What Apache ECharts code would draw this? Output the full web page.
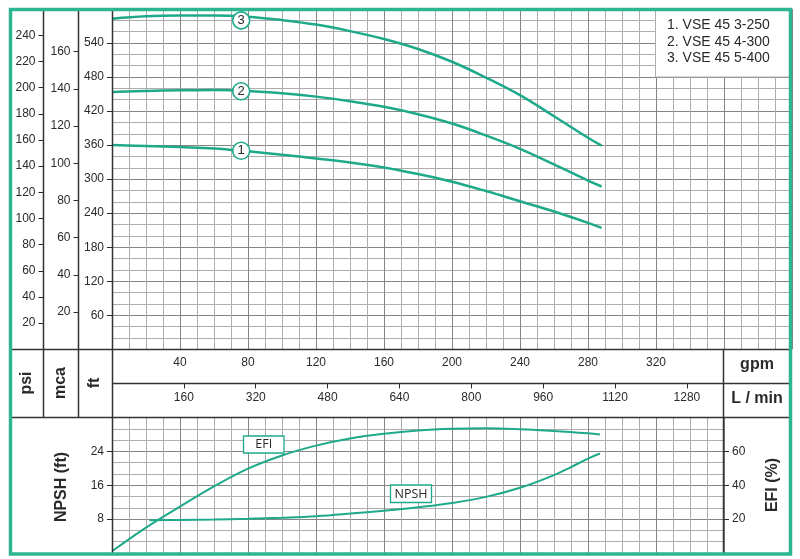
<!DOCTYPE html>
<html><head><meta charset="utf-8">
<script src="https://cdn.jsdelivr.net/npm/echarts@6/dist/echarts.min.js"></script>
<style>html,body{margin:0;padding:0;background:#fff}#c{width:800px;height:559px}</style>
</head><body><div id="c"></div>
<script>
// ---- data ----
const flow  = [0,20,40,60,80,100,120,140,160,180,200,220,240,260,280,288];           // gpm
const head1 = [360,358.6,356.6,354.2,349,343,336.5,329.5,320.5,309,295.5,279,261,243,223,214]; // ft
const head2 = [453.5,455.5,456.7,457,455.5,451.5,445.5,437.5,427.5,414.5,398,377,353.5,326,297.5,287];
const head3 = [583,587,588.5,588.7,586.5,580.5,572.5,561,547,529.5,507,479,448,411,373,359];
const efiFlow = [0,20,40,60,80,100,120,140,160,180,200,220,240,260,280,287];
const efiVals = [1,15,27.4,39.3,49.8,57.6,63.4,67.6,70.4,72.3,73.3,73.6,73.1,72.1,70.7,70];
const npshFlow = [22,40,60,80,100,120,140,160,180,200,220,240,260,270,280,287];
const npshVals = [7.75,7.82,7.92,8.1,8.35,8.7,9.3,10.0,10.8,11.8,13.25,15.4,18.4,20.3,22.3,23.5];
const tagFlow = 76;
const tagHead = [350,455,580];
const tagNames = ['1','2','3'];
const models = ['1. VSE 45 3-250','2. VSE 45 4-300','3. VSE 45 5-400'];
// tick labels
const gpmLabels  = [40,80,120,160,200,240,280,320];
const lminLabels = [160,320,480,640,800,960,1120,1280];
const ftLabels   = [60,120,180,240,300,360,420,480,540];
const psiLabels  = [20,40,60,80,100,120,140,160,180,200,220,240];
const mcaLabels  = [20,40,60,80,100,120,140,160];
const npshLabels = [8,16,24];
const efiLabels  = [20,40,60];

// ---- styles ----
const TEAL = '#1ea98b', GREEN = '#2bb591', INK = '#2a2a2a';
const MAJOR = '#858585', MINOR = '#adadad';
const FONT = '"Liberation Sans", Arial, sans-serif';
const L_PER_GAL = 3.785, FT_PER_PSI = 2.30666, FT_PER_M = 3.28084;
const lab = (vals, margin) => ({customValues: vals, margin: margin, fontSize: 12, color: INK,
  fontFamily: FONT, formatter: v => String(v)});
const tick = (vals) => ({show: true, customValues: vals, length: 5, lineStyle: {color: INK, width: 1}});
const split = {show: true, lineStyle: {color: MAJOR, width: 1}};
const minorSplit = {show: true, lineStyle: {color: MINOR, width: 1}};
const hidden = (g) => ({gridIndex: g, type: 'value', min: 0, max: 1, show: false});

const TOP = 9, TOP_H = 340.3;

const chart = echarts.init(document.getElementById('c'));
const pairs = (xs, ys) => xs.map((x, i) => [x, ys[i]]);

function headSeries(vals, i) {
  return {
    type: 'line', xAxisIndex: 0, yAxisIndex: 0, data: pairs(flow, vals),
    smooth: 0.4, showSymbol: false, lineStyle: {color: TEAL, width: 2.5}, z: 3,
    markPoint: {
      symbol: 'circle', symbolSize: 17,
      itemStyle: {color: '#fff', borderColor: TEAL, borderWidth: 1.6},
      label: {show: true, formatter: tagNames[i], color: INK, fontSize: 13, fontFamily: FONT},
      data: [{coord: [tagFlow, tagHead[i]]}]
    }
  };
}

const txt = (x, y, text, font, rot, align) => ({
  type: 'text', x: x, y: y, rotation: rot || 0, z: 120,
  style: {text: text, font: font, fill: INK, align: align || 'center', verticalAlign: 'middle'}
});
const line = (x1, y1, x2, y2) => ({
  type: 'line', z: 110, shape: {x1, y1, x2, y2}, style: {stroke: '#333', lineWidth: 1.5}
});

chart.setOption({
  animation: false,
  backgroundColor: '#fff',
  grid: [
    {left: 112, top: TOP, width: 680, height: TOP_H},          // head chart
    {left: 112, top: 417.5, width: 612, height: 135.5},        // NPSH / EFI chart
    {left: 43.5, top: TOP, width: 35, height: TOP_H},          // psi column
    {left: 78.5, top: TOP, width: 34, height: TOP_H},          // mca column
    {left: 112, top: 349.5, width: 680, height: 34}            // L/min row
  ],
  xAxis: [
    {gridIndex: 0, type: 'value', min: 0, max: 400, interval: 40, position: 'bottom',
     axisLine: {show: false}, axisTick: {show: false}, axisLabel: lab(gpmLabels, 7),
     splitLine: split, minorTick: {show: false, splitNumber: 4}, minorSplitLine: minorSplit},
    {gridIndex: 1, type: 'value', min: 0, max: 360, interval: 40, position: 'bottom',
     axisLine: {show: false}, axisTick: {show: false}, axisLabel: {show: false},
     splitLine: split, minorTick: {show: false, splitNumber: 4}, minorSplitLine: minorSplit},
    hidden(2), hidden(3),
    {gridIndex: 4, type: 'value', min: 0, max: 400 * L_PER_GAL, position: 'bottom',
     axisLine: {show: false}, axisTick: tick(lminLabels), axisLabel: lab(lminLabels, 8),
     splitLine: {show: false}}
  ],
  yAxis: [
    {gridIndex: 0, type: 'value', min: 0, max: 600, interval: 60, position: 'left',
     axisLine: {show: false}, axisTick: tick(ftLabels), axisLabel: lab(ftLabels, 8),
     splitLine: split, minorTick: {show: false, splitNumber: 3}, minorSplitLine: minorSplit},
    {gridIndex: 1, type: 'value', min: 0, max: 32, interval: 8, position: 'left',
     axisLine: {show: false}, axisTick: tick(npshLabels), axisLabel: lab(npshLabels, 8),
     splitLine: split, minorTick: {show: false, splitNumber: 3}, minorSplitLine: minorSplit},
    {gridIndex: 1, type: 'value', min: 0, max: 80, interval: 20, position: 'right',
     axisLine: {show: false}, axisTick: tick(efiLabels), axisLabel: lab(efiLabels, 8),
     splitLine: {show: false}},
    {gridIndex: 2, type: 'value', min: 0, max: 600 / FT_PER_PSI, position: 'left',
     axisLine: {show: false}, axisTick: tick(psiLabels), axisLabel: lab(psiLabels, 8),
     splitLine: {show: false}},
    {gridIndex: 3, type: 'value', min: 0, max: 600 / FT_PER_M, position: 'left',
     axisLine: {show: false}, axisTick: tick(mcaLabels), axisLabel: lab(mcaLabels, 8),
     splitLine: {show: false}},
    hidden(4)
  ],
  series: [
    headSeries(head1, 0), headSeries(head2, 1), headSeries(head3, 2),
    {type: 'line', xAxisIndex: 1, yAxisIndex: 2, data: pairs(efiFlow, efiVals),
     smooth: 0.4, showSymbol: false, lineStyle: {color: TEAL, width: 2}},
    {type: 'line', xAxisIndex: 1, yAxisIndex: 1, data: pairs(npshFlow, npshVals),
     smooth: 0.4, showSymbol: false, lineStyle: {color: TEAL, width: 2}}
  ],
  graphic: [
    // legend box
    {type: 'rect', z: 100, shape: {x: 655.5, y: 9, width: 135, height: 68},
     style: {fill: '#fff', stroke: MINOR, lineWidth: 1}},
    txt(667, 25, models[0], '14px ' + FONT, 0, 'left'),
    txt(667, 41.7, models[1], '14px ' + FONT, 0, 'left'),
    txt(667, 58.3, models[2], '14px ' + FONT, 0, 'left'),
    // frame lines
    line(10, 349.5, 790, 349.5),
    line(112, 383.5, 790, 383.5),
    line(10, 417.5, 790, 417.5),
    line(43.5, 9, 43.5, 417.5),
    line(78.5, 9, 78.5, 417.5),
    line(112.5, 9, 112.5, 553),
    line(723.5, 349.5, 723.5, 553),
    // unit captions
    txt(27, 383, 'psi', 'bold 16px ' + FONT, Math.PI / 2),
    txt(60.5, 383, 'mca', 'bold 16px ' + FONT, Math.PI / 2),
    txt(95, 383, 'ft', 'bold 16px ' + FONT, Math.PI / 2),
    txt(757, 365, 'gpm', 'bold 16px ' + FONT),
    txt(757, 399, 'L / min', 'bold 16px ' + FONT),
    txt(62, 487, 'NPSH (ft)', 'bold 16px ' + FONT, Math.PI / 2),
    txt(773, 485, 'EFI (%)', 'bold 16px ' + FONT, Math.PI / 2),
    // curve tags
    {type: 'rect', z: 100, shape: {x: 243.5, y: 436, width: 40.5, height: 17},
     style: {fill: '#fff', stroke: TEAL, lineWidth: 1.3}},
    txt(263.7, 444.8, 'EFI', '12.5px "Open Sans", sans-serif'),
    {type: 'rect', z: 100, shape: {x: 390.5, y: 485, width: 41, height: 17.5},
     style: {fill: '#fff', stroke: TEAL, lineWidth: 1.3}},
    txt(411, 494, 'NPSH', '12.5px "Open Sans", sans-serif'),
    // outer border
    {type: 'rect', z: 130, shape: {x: 10.5, y: 9.5, width: 780, height: 544.5},
     style: {fill: 'none', stroke: GREEN, lineWidth: 3.5}}
  ]
});
</script></body></html>
